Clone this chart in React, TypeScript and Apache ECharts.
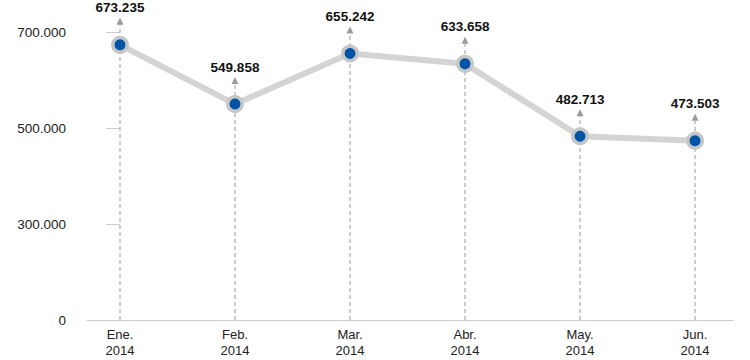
import React, { useEffect, useRef } from "react";
import * as echarts from "echarts";

const months = ["Ene.", "Feb.", "Mar.", "Abr.", "May.", "Jun."];
const years = ["2014", "2014", "2014", "2014", "2014", "2014"];
const values = [673235, 549858, 655242, 633658, 482713, 473503];
const yTickValues = [100000, 300000, 500000, 700000];
const yTickLabels = ["0", "300.000", "500.000", "700.000"];

const fmt = (v: number) => {
  const th = Math.floor(v / 1000);
  const rest = String(v % 1000).padStart(3, "0");
  return th + "." + rest;
};

const FONT = "'Liberation Sans', Arial, Helvetica, sans-serif";

export default function App() {
  const ref = useRef<HTMLDivElement>(null);
  useEffect(() => {
    document.body.style.margin = "0";
    if (!ref.current) return;
    const chart = echarts.init(ref.current, null, { renderer: "svg" });
    const data = values.map((v, i) => [i, v]);
    chart.setOption({
      animation: false,
      backgroundColor: "#ffffff",
      textStyle: { fontFamily: FONT },
      grid: { left: 87, right: 17, top: 32, bottom: 40, containLabel: false },
      xAxis: {
        type: "value",
        min: -0.287,
        max: 5.33,
        axisLine: { show: true, lineStyle: { color: "#cccccc", width: 1 } },
        axisTick: { show: false },
        splitLine: { show: false },
        axisLabel: {
          customValues: months.map((_, i) => i),
          formatter: (v: number) => {
            const i = Math.round(v);
            return months[i] + "\n" + years[i];
          },
          color: "#222222",
          fontSize: 13,
          lineHeight: 16,
          margin: 6,
          fontFamily: FONT,
        },
      },
      yAxis: {
        type: "value",
        min: 100000,
        max: 700000,
        interval: 200000,
        axisLine: { show: false },
        axisTick: { show: true, length: 14, lineStyle: { color: "#cccccc" } },
        splitLine: { show: false },
        axisLabel: {
          formatter: (v: number) => {
            const idx = yTickValues.indexOf(v);
            return idx >= 0 ? yTickLabels[idx] : "";
          },
          color: "#222222",
          fontSize: 13.5,
          margin: 21,
          fontFamily: FONT,
        },
      },
      series: [
        {
          type: "custom",
          z: 1,
          data: data,
          renderItem: (params: any, api: any) => {
            const x = api.value(0);
            const y = api.value(1);
            const p = api.coord([x, y]);
            const base = api.coord([x, 100000]);
            const tipY = p[1] - 27;
            const arrowBaseY = p[1] - 20;
            return {
              type: "group",
              children: [
                {
                  type: "line",
                  shape: { x1: p[0], y1: base[1], x2: p[0], y2: arrowBaseY },
                  style: { stroke: "#9a9a9a", lineWidth: 1, lineDash: [4, 3] },
                },
                {
                  type: "polygon",
                  shape: {
                    points: [
                      [p[0], tipY],
                      [p[0] - 3.5, arrowBaseY],
                      [p[0] + 3.5, arrowBaseY],
                    ],
                  },
                  style: { fill: "#9a9a9a" },
                },
                {
                  type: "text",
                  style: {
                    x: p[0],
                    y: p[1] - 37,
                    text: fmt(y),
                    align: "center",
                    verticalAlign: "middle",
                    fill: "#111111",
                    font: "bold 13.5px " + FONT,
                  },
                },
              ],
            };
          },
        },
        {
          type: "line",
          z: 3,
          data: data,
          symbol: "circle",
          symbolSize: 14.5,
          lineStyle: { color: "#d4d4d4", width: 6 },
          itemStyle: { color: "#0054a6", borderColor: "#c6c6c6", borderWidth: 3.5 },
          label: { show: false },
        },
      ],
    });
    return () => chart.dispose();
  }, []);
  return <div ref={ref} style={{ width: 750, height: 360 }} />;
}
